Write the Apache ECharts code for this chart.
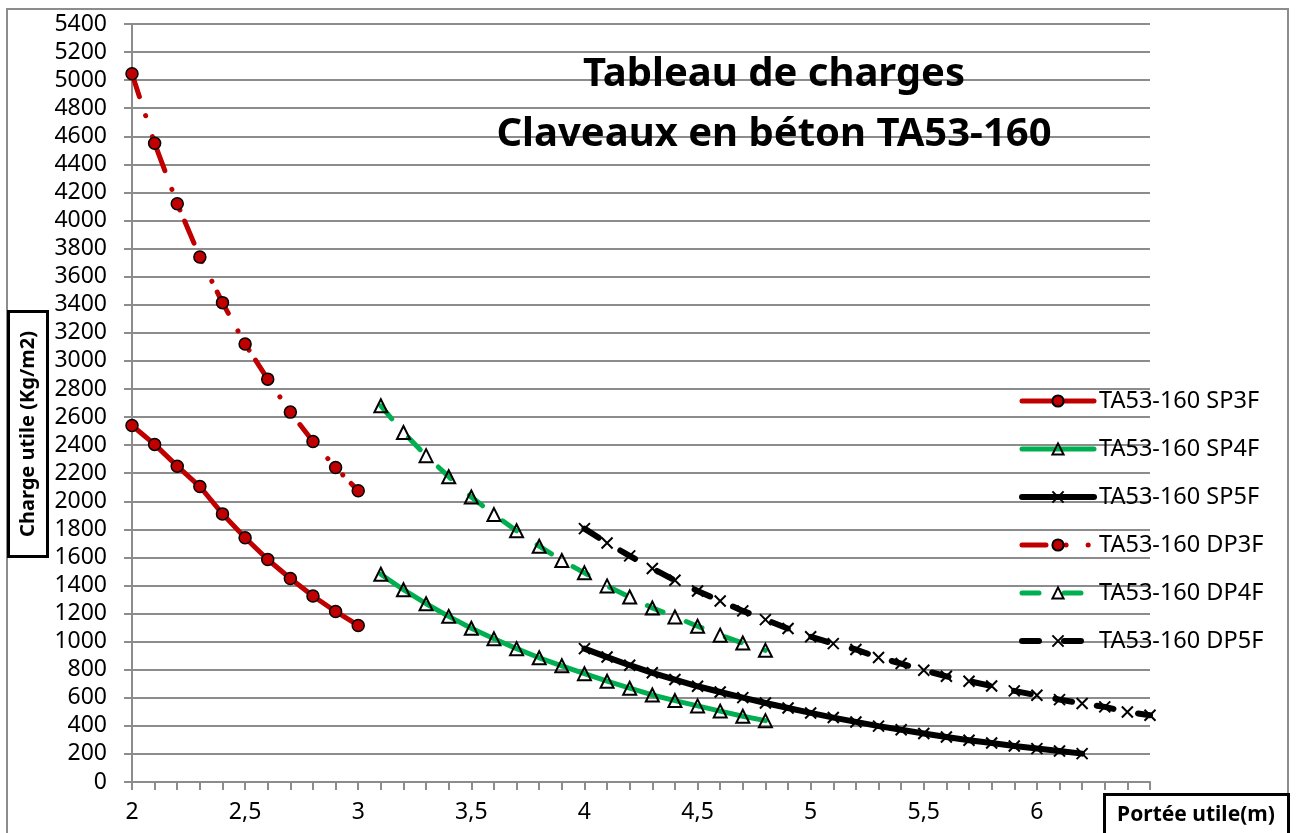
<!DOCTYPE html>
<html>
<head>
<meta charset="utf-8">
<title>Tableau de charges</title>
<script src="https://cdn.jsdelivr.net/npm/echarts@6/dist/echarts.min.js"></script>
<style>
html, body { margin: 0; padding: 0; background: #fff; }
#main { width: 1298px; height: 833px; }
</style>
</head>
<body>
<div id="main"></div>
<script>
// portées (m)
var portee3F = [2, 2.1, 2.2, 2.3, 2.4, 2.5, 2.6, 2.7, 2.8, 2.9, 3];
var portee4F = [3.1, 3.2, 3.3, 3.4, 3.5, 3.6, 3.7, 3.8, 3.9, 4, 4.1, 4.2, 4.3, 4.4, 4.5, 4.6, 4.7, 4.8];
var porteeSP5F = [4, 4.1, 4.2, 4.3, 4.4, 4.5, 4.6, 4.7, 4.8, 4.9, 5, 5.1, 5.2, 5.3, 5.4, 5.5, 5.6, 5.7, 5.8, 5.9, 6, 6.1, 6.2];
var porteeDP5F = [4, 4.1, 4.2, 4.3, 4.4, 4.5, 4.6, 4.7, 4.8, 4.9, 5, 5.1, 5.2, 5.3, 5.4, 5.5, 5.6, 5.7, 5.8, 5.9, 6, 6.1, 6.2, 6.3, 6.4, 6.5];

// charges utiles (Kg/m2)
var chargeSP3F = [2540, 2405, 2250, 2105, 1910, 1740, 1585, 1450, 1325, 1215, 1115];
var chargeDP3F = [5045, 4550, 4120, 3740, 3415, 3120, 2870, 2635, 2425, 2240, 2075];
var chargeSP4F = [1480, 1370, 1270, 1180, 1095, 1020, 950, 885, 828, 772, 718, 668, 620, 580, 542, 505, 468, 437];
var chargeDP4F = [2680, 2490, 2325, 2175, 2030, 1905, 1790, 1680, 1578, 1490, 1397, 1318, 1240, 1176, 1110, 1046, 990, 938];
var chargeSP5F = [950, 890, 832, 778, 730, 682, 641, 601, 563, 527, 492, 459, 428, 398, 372, 345, 321, 298, 278, 257, 238, 221, 202];
var chargeDP5F = [1805, 1703, 1611, 1521, 1437, 1361, 1290, 1219, 1157, 1093, 1035, 986, 944, 887, 844, 796, 753, 718, 684, 649, 618, 587, 559, 535, 499, 475];

var noms = ['TA53-160 SP3F', 'TA53-160 SP4F', 'TA53-160 SP5F', 'TA53-160 DP3F', 'TA53-160 DP4F', 'TA53-160 DP5F'];

var FONT = 'Noto Sans';
var ROUGE = '#c00000', VERT = '#00b050', NOIR = '#000000';
var CROIX = 'path://M0,0L10,10M10,0L0,10';

function paires(xs, ys) {
    var out = [];
    for (var i = 0; i < xs.length; i++) out.push([xs[i], ys[i]]);
    return out;
}

function serie(nom, xs, ys, couleur, largeur, tirets, symbole) {
    var s = {
        name: nom,
        type: 'line',
        data: paires(xs, ys),
        lineStyle: { color: couleur, width: largeur, type: tirets, cap: 'round', join: 'round' },
        symbol: symbole,
        symbolSize: 12,
        showAllSymbol: true,
        animation: false
    };
    if (symbole === 'circle') {
        s.itemStyle = { color: ROUGE, borderColor: '#000', borderWidth: 1.5 };
    } else if (symbole === 'triangle') {
        s.symbolSize = 13;
        s.itemStyle = { color: 'rgba(255,255,255,0)', borderColor: '#000', borderWidth: 2 };
    } else {
        s.symbolSize = 11;
        s.itemStyle = { color: 'rgba(255,255,255,0)', borderColor: '#000', borderWidth: 2 };
    }
    return s;
}

var myChart = echarts.init(document.getElementById('main'));
var option = {
    backgroundColor: '#fff',
    animation: false,
    grid: { left: 132, right: 148, top: 24, bottom: 51 },
    legend: {
        orient: 'vertical',
        left: 1014,
        top: 384,
        itemWidth: 72,
        itemHeight: 14,
        itemGap: 24,
        data: noms,
        lineStyle: { width: 'inherit', type: 'inherit', cap: 'round' },
        textStyle: { fontFamily: FONT, fontSize: 23.5, color: '#000', lineHeight: 24 }
    },
    xAxis: {
        type: 'value',
        min: 2,
        max: 6.5,
        interval: 0.5,
        axisLine: { lineStyle: { color: '#8c8c8c', width: 2 } },
        axisTick: { show: true, length: 8, lineStyle: { color: '#8c8c8c', width: 2 } },
        minorTick: { show: true, splitNumber: 5, length: 8, lineStyle: { color: '#8c8c8c', width: 2 } },
        splitLine: { show: false },
        axisLabel: {
            margin: 19,
            fontFamily: FONT, fontSize: 23, color: '#000',
            formatter: function (v) { return String(v).replace('.', ','); }
        }
    },
    yAxis: {
        type: 'value',
        min: 0,
        max: 5400,
        interval: 200,
        axisLine: { show: true, lineStyle: { color: '#8c8c8c', width: 2 } },
        axisTick: { show: true, length: 8, lineStyle: { color: '#8c8c8c', width: 2 } },
        splitLine: { lineStyle: { color: '#8c8c8c', width: 2 } },
        axisLabel: {
            margin: 25, fontFamily: FONT, fontSize: 23, color: '#000',
            formatter: function (v) { return String(v); }
        }
    },
    graphic: [
        { type: 'rect', z: 0, silent: true,
          shape: { x: 7, y: 9, width: 1281, height: 860 },
          style: { fill: 'none', stroke: '#8c8c8c', lineWidth: 2 } },
        { type: 'text', z: 100, x: 774, y: 75,
          style: { text: 'Tableau de charges', align: 'center', verticalAlign: 'middle',
                   fontFamily: FONT, fontSize: 40, fontWeight: 'bold', fill: '#000' } },
        { type: 'text', z: 100, x: 774, y: 135,
          style: { text: 'Claveaux en béton TA53-160', align: 'center', verticalAlign: 'middle',
                   fontFamily: FONT, fontSize: 40, fontWeight: 'bold', fill: '#000' } },
        { type: 'rect', z: 100,
          shape: { x: 8.5, y: 311.5, width: 39, height: 245 },
          style: { fill: '#fff', stroke: '#000', lineWidth: 3 } },
        { type: 'text', z: 101, x: 28, y: 434, rotation: Math.PI / 2,
          style: { text: 'Charge utile (Kg/m2)', align: 'center', verticalAlign: 'middle',
                   fontFamily: FONT, fontSize: 20, fontWeight: 'bold', fill: '#000' } },
        { type: 'rect', z: 100,
          shape: { x: 1104.5, y: 794.5, width: 184, height: 60 },
          style: { fill: '#fff', stroke: '#000', lineWidth: 3 } },
        { type: 'text', z: 101, x: 1196, y: 815,
          style: { text: 'Portée utile(m)', align: 'center', verticalAlign: 'middle',
                   fontFamily: FONT, fontSize: 21, fontWeight: 'bold', fill: '#000' } }
    ],
    series: [
        serie(noms[0], portee3F, chargeSP3F, ROUGE, 5, 'solid', 'circle'),
        serie(noms[1], portee4F, chargeSP4F, VERT, 5, 'solid', 'triangle'),
        serie(noms[2], porteeSP5F, chargeSP5F, NOIR, 6, 'solid', CROIX),
        serie(noms[3], portee3F, chargeDP3F, ROUGE, 5, [24, 20, 0.1, 22, 0.1, 12], 'circle'),
        serie(noms[4], portee4F, chargeDP4F, VERT, 5, [17, 25], 'triangle'),
        serie(noms[5], porteeDP5F, chargeDP5F, NOIR, 6, [17, 25], CROIX)
    ]
};
myChart.setOption(option);
window.onresize = myChart.resize;
</script>
</body>
</html>
